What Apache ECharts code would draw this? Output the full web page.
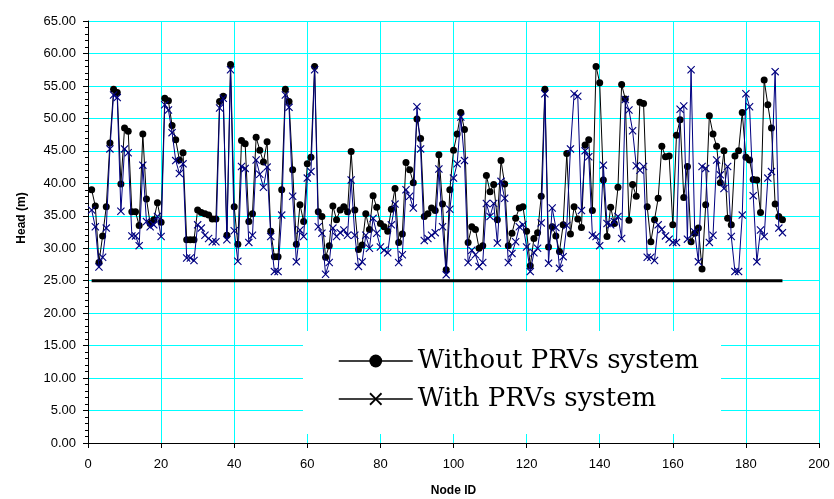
<!DOCTYPE html>
<html>
<head>
<meta charset="utf-8">
<script src="https://cdn.jsdelivr.net/npm/echarts@6/dist/echarts.min.js"></script>
<style>
html, body { margin: 0; padding: 0; background: #fff; }
#chart { width: 834px; height: 499px; }
</style>
</head>
<body>
<div id="chart"></div>
<script>
// head (m) at each node, node ID = position in the list (1..190)
var headWithout = [
	39.0, 36.5, 27.8, 31.9, 36.4, 46.2, 54.5, 54.0, 39.9, 48.5,
	48.0, 35.6, 35.6, 33.5, 47.6, 37.6, 33.8, 34.4, 37.0, 34.0,
	53.1, 52.7, 48.9, 46.7, 43.6, 44.7, 31.3, 31.3, 31.3, 35.9,
	35.5, 35.3, 35.1, 34.5, 34.5, 52.6, 53.4, 32.0, 58.3, 36.4,
	30.6, 46.6, 46.1, 34.1, 35.3, 47.1, 45.1, 43.3, 46.4, 32.6,
	28.7, 28.7, 39.0, 54.5, 52.6, 42.1, 30.6, 36.7, 34.1, 43.0,
	44.0, 58.0, 35.6, 34.9, 28.6, 30.4, 36.5, 34.4, 35.9, 36.4,
	35.6, 44.9, 35.9, 29.8, 30.5, 35.3, 32.9, 38.1, 36.3, 33.8,
	33.3, 32.6, 36.0, 39.2, 30.9, 32.2, 43.2, 42.1, 40.1, 49.9,
	46.9, 34.9, 35.3, 36.2, 35.8, 44.4, 36.8, 26.7, 39.0, 45.1,
	47.6, 50.9, 48.3, 30.9, 33.3, 32.9, 30.0, 30.4, 41.2, 38.7,
	39.8, 34.4, 43.5, 39.9, 30.4, 32.3, 34.6, 36.2, 36.4, 32.6,
	27.3, 31.5, 32.4, 38.0, 54.5, 30.2, 33.3, 31.9, 29.5, 33.6,
	44.6, 32.2, 36.4, 34.5, 33.2, 45.9, 46.7, 35.8, 58.0, 55.5,
	40.5, 31.8, 36.3, 33.8, 39.4, 55.2, 53.0, 34.3, 39.8, 38.0,
	52.5, 52.3, 36.4, 31.0, 34.4, 37.7, 45.7, 44.1, 44.2, 33.6,
	47.4, 49.8, 37.8, 42.6, 31.0, 32.3, 33.1, 26.8, 36.7, 50.4,
	47.6, 45.7, 40.1, 45.0, 34.6, 33.6, 44.2, 45.0, 50.9, 44.0,
	43.6, 40.6, 40.5, 35.5, 55.9, 52.1, 48.5, 36.8, 34.9, 34.4
];
var headWith = [
	35.9, 33.3, 27.1, 28.6, 33.1, 45.3, 53.6, 53.2, 35.7, 45.3,
	44.7, 31.9, 31.9, 30.4, 42.8, 34.1, 33.3, 33.6, 34.9, 31.8,
	52.1, 51.3, 47.8, 43.5, 41.5, 43.0, 28.5, 28.5, 28.1, 33.6,
	33.1, 32.0, 31.5, 31.0, 31.0, 51.6, 53.1, 31.3, 57.5, 32.7,
	28.0, 42.6, 42.3, 30.9, 32.0, 43.6, 41.4, 39.4, 42.5, 31.8,
	26.4, 26.4, 35.1, 53.6, 51.7, 38.0, 27.9, 32.8, 31.8, 40.8,
	41.8, 57.5, 33.3, 32.3, 26.0, 27.8, 33.1, 31.8, 32.4, 32.8,
	32.0, 40.5, 32.0, 27.2, 27.9, 32.0, 30.0, 34.6, 32.3, 30.2,
	29.7, 29.3, 33.6, 36.8, 27.8, 29.0, 39.0, 38.0, 36.2, 51.8,
	45.3, 31.2, 31.5, 32.0, 32.4, 42.2, 33.3, 25.9, 36.0, 40.8,
	43.0, 50.2, 43.5, 27.8, 29.7, 29.0, 27.2, 27.8, 36.9, 34.9,
	36.9, 30.8, 40.3, 37.7, 27.8, 29.2, 31.0, 33.3, 33.6, 30.2,
	26.4, 29.3, 30.0, 33.9, 53.8, 27.7, 36.2, 33.2, 26.9, 28.7,
	33.5, 45.3, 53.8, 53.4, 35.8, 45.0, 44.1, 32.0, 31.8, 30.4,
	42.8, 33.8, 33.6, 34.1, 34.9, 31.5, 52.9, 51.3, 48.1, 42.7,
	42.0, 42.6, 28.6, 28.6, 28.1, 33.6, 32.9, 31.9, 31.4, 30.9,
	30.9, 51.4, 51.9, 31.4, 57.5, 32.5, 27.9, 42.6, 42.3, 30.9,
	32.0, 43.6, 41.3, 39.2, 42.6, 31.8, 26.4, 26.4, 35.1, 53.8,
	51.8, 38.1, 27.9, 32.8, 31.8, 40.8, 41.8, 57.2, 33.1, 32.4
];
var seriesNames = ['Without PRVs system', 'With PRVs system'];
var minHead = 25;          // required minimum head line
var minHeadNodes = [1, 190];

// filled "x" shape, so it renders without stroke tricks
var crossPath = 'path://M0,1L1,0L5,4L9,0L10,1L6,5L10,9L9,10L5,6L1,10L0,9L4,5Z';

function toPoints(values){
	var pts = [];
	for (var i = 0; i < values.length; i++){
		pts.push([i + 1, values[i]]);
	}
	return pts;
}

var chart = echarts.init(document.getElementById('chart'), null, {renderer: 'canvas'});
var axisFont = {fontFamily: 'Liberation Sans', fontSize: 13, color: '#000'};

var option = {
	animation: false,
	backgroundColor: '#fff',
	grid: {left: 88, right: 15, top: 21, bottom: 56, containLabel: false, outerBoundsMode: 'none'},
	legend: {
		orient: 'vertical',
		left: 303,
		top: 331,
		padding: [17, 22, 22, 35],
		backgroundColor: '#fff',
		itemWidth: 74,
		itemHeight: 16,
		itemGap: 12,
		textStyle: {fontFamily: 'DejaVu Serif', fontSize: 26, color: '#000'},
		data: [
			{name: seriesNames[0], itemStyle: {color: '#000'}, lineStyle: {color: '#000', width: 1.5}},
			{name: seriesNames[1], itemStyle: {color: '#000'}, lineStyle: {color: '#000', width: 1.5}}
		]
	},
	xAxis: {
		type: 'value',
		min: 0,
		max: 200,
		interval: 20,
		name: 'Node ID',
		nameLocation: 'middle',
		nameGap: 42,
		nameTextStyle: {fontFamily: 'Liberation Sans', fontSize: 12, fontWeight: 'bold', color: '#000'},
		axisLine: {lineStyle: {color: '#000', width: 1}},
		axisTick: {show: true, length: 5, lineStyle: {color: '#000'}},
		axisLabel: Object.assign({margin: 15}, axisFont),
		splitLine: {show: true, lineStyle: {color: '#00ffff', width: 1}}
	},
	yAxis: {
		type: 'value',
		min: 0,
		max: 65,
		interval: 5,
		name: 'Head (m)',
		nameLocation: 'middle',
		nameGap: 60,
		nameTextStyle: {fontFamily: 'Liberation Sans', fontSize: 12, fontWeight: 'bold', color: '#000', padding: [0, 0, 0, 28]},
		axisLine: {show: true, lineStyle: {color: '#000', width: 1}},
		axisTick: {show: true, length: 5, lineStyle: {color: '#000'}},
		minorTick: {show: true, splitNumber: 5, length: 3, lineStyle: {color: '#000'}},
		axisLabel: Object.assign({margin: 12, formatter: function(v){ return v.toFixed(2); }}, axisFont),
		splitLine: {show: true, lineStyle: {color: '#00ffff', width: 1}}
	},
	series: [
		{
			name: seriesNames[0],
			type: 'line',
			data: toPoints(headWithout),
			symbol: 'circle',
			symbolSize: 7,
			itemStyle: {color: '#000'},
			lineStyle: {color: '#000', width: 1},
			z: 3
		},
		{
			name: seriesNames[1],
			type: 'line',
			data: toPoints(headWith),
			symbol: crossPath,
			symbolSize: 8,
			itemStyle: {color: '#000080'},
			lineStyle: {color: '#000080', width: 1},
			z: 4
		},
		{
			name: 'min head',
			type: 'line',
			data: [[minHeadNodes[0], minHead], [minHeadNodes[1], minHead]],
			symbol: 'none',
			lineStyle: {color: '#000', width: 3},
			z: 2
		}
	]
};
chart.setOption(option);
</script>
</body>
</html>
